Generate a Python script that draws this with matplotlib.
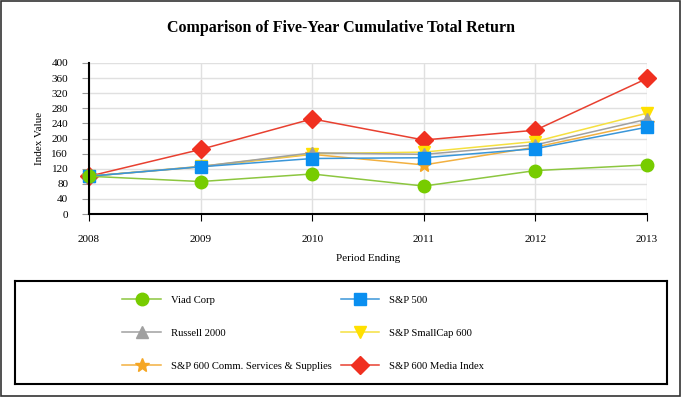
import matplotlib
matplotlib.use('Agg')
import matplotlib.pyplot as plt
from matplotlib.patches import Rectangle

years = [2008, 2009, 2010, 2011, 2012, 2013]

viad = [100, 86, 106, 74, 115, 130]
sp500 = [100, 125, 147, 149, 173, 230]
russell = [100, 126, 162, 158, 183, 251]
smallcap = [100, 126, 160, 164, 192, 267]
comm = [100, 125, 158, 130, 177, 240]
media = [100, 171, 252, 196, 222, 359]

y_ticks = list(range(0, 401, 40))

# label, values, line colour, marker colour, marker, size
series = [
    ('Viad Corp', viad, '#8CC63F', '#77CC00', 'o', 9),
    ('S&P 500', sp500, '#3A96D8', '#0A8FF0', 's', 8.5),
    ('Russell 2000', russell, '#A0A0A0', '#A0A0A0', '^', 8.5),
    ('S&P SmallCap 600', smallcap, '#F5E040', '#FFE000', 'v', 8.5),
    ('S&P 600 Comm. Services & Supplies', comm, '#F2B040', '#F5A623', '*', 10),
    ('S&P 600 Media Index', media, '#E84030', '#F03020', 'D', 9),
]

plt.rcParams['font.family'] = ['Liberation Serif', 'DejaVu Serif']

fig = plt.figure(figsize=(6.82, 4.0), dpi=100)
fig.patches.append(Rectangle((0.002, 0.01), 0.995, 0.987, transform=fig.transFigure,
                             fill=False, edgecolor='#333333', linewidth=1.2))

ax = fig.add_axes([89 / 682, 1 - 214 / 400, (647 - 89) / 682, (214 - 63) / 400])
handles = {}
for label, vals, lc, mc, mk, ms in reversed(series):
    h, = ax.plot(years, vals, color=lc, linewidth=1.1, marker=mk, markersize=ms,
                 markerfacecolor=mc, markeredgecolor=mc, label=label, clip_on=False)
    handles[label] = h

ax.set_xlim(2008, 2013)
ax.set_ylim(0, 400)
ax.set_yticks(y_ticks)
ax.set_xticks(years)
ax.grid(True, color='#E0E0E0', linewidth=1)
ax.set_axisbelow(True)
for s in ['top', 'right']:
    ax.spines[s].set_visible(False)
for s in ['left', 'bottom']:
    ax.spines[s].set_linewidth(1.5)
    ax.spines[s].set_color('black')
ax.tick_params(axis='y', labelsize=8, length=5, color='#999999', pad=10)
ax.tick_params(axis='x', labelsize=8, length=5, color='black', pad=10)
ax.set_ylabel('Index Value', fontsize=8, labelpad=5)
ax.set_xlabel('Period Ending', fontsize=8, labelpad=7)

fig.text(0.5, 1 - 28 / 400, 'Comparison of Five-Year Cumulative Total Return',
         ha='center', va='center', fontsize=11.5, fontweight='bold')

# legend box
lax = fig.add_axes([15 / 682, 1 - 384 / 400, (667 - 15) / 682, (384 - 281) / 400])
lax.set_xticks([])
lax.set_yticks([])
for s in lax.spines.values():
    s.set_linewidth(1.5)
    s.set_color('black')
order = ['Viad Corp', 'Russell 2000', 'S&P 600 Comm. Services & Supplies',
         'S&P 500', 'S&P SmallCap 600', 'S&P 600 Media Index']
lax.legend([handles[k] for k in order], order, ncol=2, loc='upper left',
           bbox_to_anchor=(100 / 652, 0.93), frameon=False, fontsize=7.7,
           handlelength=3.6, handletextpad=0.9, columnspacing=0.9,
           labelspacing=2.2, borderaxespad=0.3)

fig.savefig('out.png', dpi=100)
